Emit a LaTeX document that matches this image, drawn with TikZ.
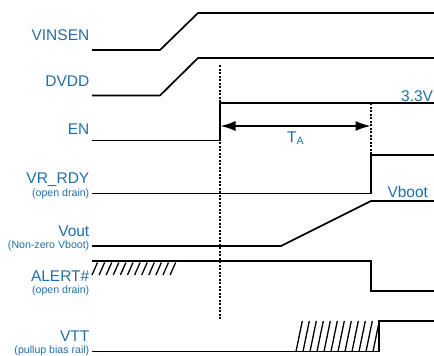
\documentclass[tikz,border=0pt]{standalone}
\usepackage{fontspec}
\setmainfont{Liberation Sans}
\usetikzlibrary{arrows.meta,positioning}
\definecolor{label_blue}{RGB}{30,110,170}

\begin{document}
\begin{tikzpicture}[x=1pt,y=-1pt,
      sig/.style={
         line width=1.7pt,
         draw=black},
      name_lbl/.style={
         anchor=base east,
         text=label_blue,
         inner sep=0pt,
         font=\fontsize{15.5}{18}\selectfont},
      note_lbl/.style={
         anchor=east,
         text=label_blue,
         inner sep=0pt,
         font=\fontsize{10.6}{12}\selectfont},
      level_lbl/.style={
         anchor=base west,
         text=label_blue,
         inner sep=0pt,
         font=\fontsize{15.5}{18}\selectfont},
      hatch/.style={
         line width=1.3pt},
      marker/.style={
         line width=1.2pt,
         dash pattern=on 2pt off 1.5pt},
      arrow_ta/.style={
         {Latex[length=15pt,width=10pt]}-{Latex[length=15pt,width=10pt]},
         line width=1.5pt},
      ]
      \useasboundingbox (0,0) rectangle (434,356);

      % signal names
      \foreach \nm/\y/\txt in {% name/baseline/text
        vinsen/40/VINSEN,
        dvdd/86/DVDD,
        en/134/EN,
        vrrdy/183.3/VR\_RDY,
        vout/236.7/Vout,
        alert/281/ALERT\#,
        vtt/341.7/VTT}
        \node[name_lbl] (l_\nm) at (89.5,\y) {\txt};

      % small notes under the names
      \node[note_lbl] (n_vrrdy) at (89.5,193.5) {(open drain)};
      \node[note_lbl] (n_vout) at (89.5,246) {(Non-zero Vboot)};
      \node[note_lbl] (n_alert) at (89.5,291) {(open drain)};
      \node[note_lbl] (n_vtt) at (89.5,351) {(pullup bias rail)};

      % waveforms
      \draw[sig] (92,50) -- (160,50) -- (198,13) -- (434,13);
      \draw[sig] (92,95.5) -- (160,95.5) -- (198,58) -- (434,58);
      \draw[sig] (92,140.5) -- (220,140.5) -- (220,102.7) -- (434,102.7);
      \draw[sig] (92,193.5) -- (371,193.5) -- (371,155) -- (434,155);
      \draw[sig] (92,246) -- (281,246) -- (371,201) -- (434,201);
      \draw[sig] (92,261) -- (371,261) -- (371,291) -- (434,291);
      \draw[sig] (92,351.5) -- (379,351.5) -- (379,321) -- (434,321);

      % don't care areas
      \foreach \i in {0,...,11}
        \draw[hatch] ({92+7.1*\i},275) -- ++(5.5,-12.5);
      \foreach \i in {0,...,11}
        \draw[hatch] ({296+7*\i},351.5) -- ++(6.3,-30.5);

      % level labels
      \node[level_lbl] (v33) at (401,101.5) {3.3V};
      \node[level_lbl] (vboot) at (387.3,197.5) {Vboot};

      % timing markers
      \draw[marker] (220,65) -- (220,320);
      \draw[marker] (371,103) -- (371,155);

      \coordinate (ta_l) at (220.5,126);
      \coordinate (ta_r) at (370.5,126);
      \draw[arrow_ta] (ta_l) -- node[below=5.5pt,inner sep=0pt,text=label_blue,font=\fontsize{15.5}{18}\selectfont] (ta) {T\raisebox{-1.6pt}{\fontsize{10.6}{12}\selectfont A}} (ta_r);
\end{tikzpicture}
\end{document}
